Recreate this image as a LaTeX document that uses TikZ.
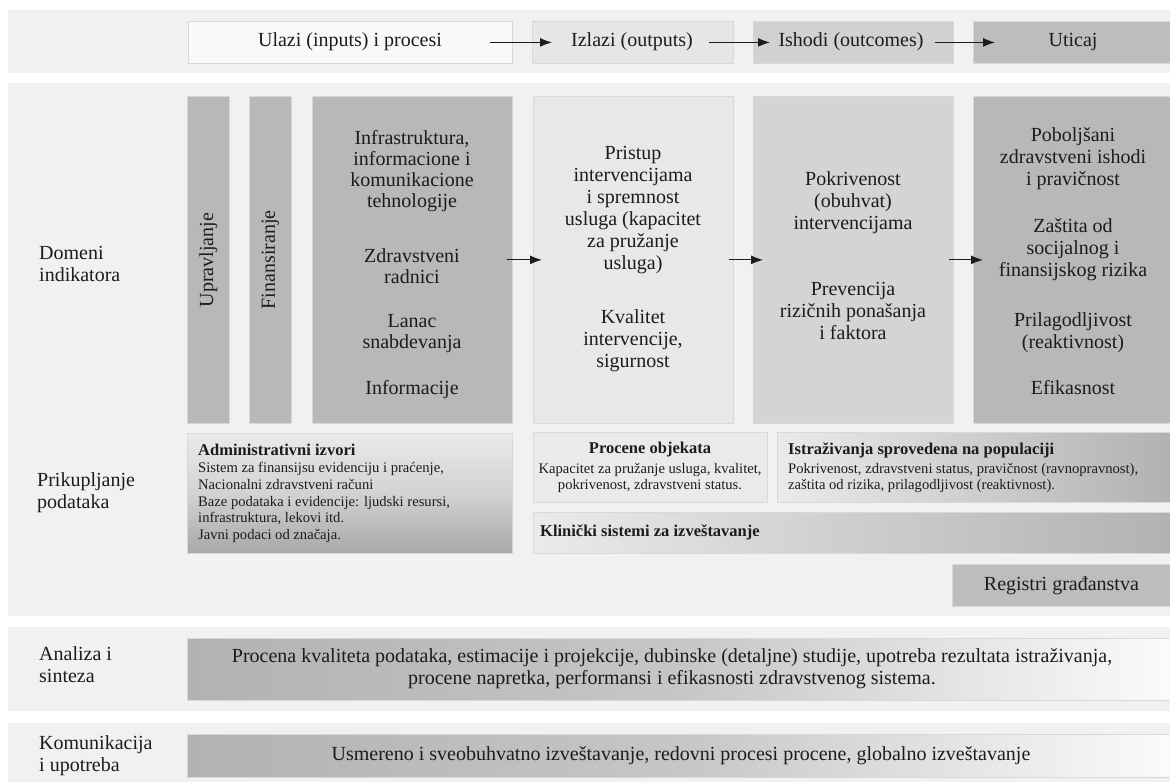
\documentclass[tikz,border=0pt]{standalone}
\usepackage{fontspec}
\setmainfont{Liberation Serif}
\usetikzlibrary{arrows.meta}
\definecolor{bandc}{RGB}{242,241,240}
\definecolor{edgec}{RGB}{216,216,214}
\definecolor{inc}{RGB}{249,249,248}
\definecolor{outc}{RGB}{230,230,229}
\definecolor{ishc}{RGB}{209,209,209}
\definecolor{uticc}{RGB}{189,189,189}
\definecolor{darkc}{RGB}{184,184,184}
\definecolor{pric}{RGB}{233,232,231}
\definecolor{pokc}{RGB}{212,212,212}
\definecolor{txtc}{RGB}{28,28,28}
\definecolor{gl}{RGB}{234,234,234}
\definecolor{gm}{RGB}{210,210,210}
\definecolor{gd}{RGB}{168,168,168}
\definecolor{gdd}{RGB}{178,178,178}
\definecolor{gmid}{RGB}{198,198,198}
\definecolor{gw}{RGB}{251,251,251}
\begin{document}
\begin{tikzpicture}[x=1pt,y=-1pt,
  box/.style={draw=edgec, line width=0.8pt, inner sep=0pt, anchor=north west},
  bigtxt/.style={inner sep=0pt, text=txtc, font=\fontsize{20pt}{22pt}\selectfont},
  smalltxt/.style={inner sep=0pt, text=txtc, font=\fontsize{14.6pt}{16.8pt}\selectfont},
  headtxt/.style={inner sep=0pt, text=txtc, font=\bfseries\fontsize{16.5pt}{19pt}\selectfont},
  arr/.style={draw=txtc, line width=1.1pt, -{Latex[length=12pt,width=9pt]}}
]
\useasboundingbox (0,0) rectangle (1170,782);
\fill[white] (0,0) rectangle (1170,782);
% bands
\fill[bandc] (8,10) rectangle (1170,73);
\fill[bandc] (8,83) rectangle (1170,616);
\fill[bandc] (8,627) rectangle (1170,711);
\fill[bandc] (8,723) rectangle (1170,782);

% top row
\node[box, fill=inc,  minimum width=324pt, minimum height=42pt] (ulazi)  at (188,21) {};
\node[box, fill=outc, minimum width=201pt, minimum height=42pt] (izlazi) at (532,21) {};
\node[box, fill=ishc, minimum width=200pt, minimum height=42pt] (ishodi) at (753,21) {};
\node[box, fill=uticc, minimum width=197pt, minimum height=42pt] (uticaj) at (973,21) {};
\node[bigtxt] (ulazitxt)  at (350,42) {Ulazi (inputs) i procesi};
\node[bigtxt] (izlazitxt) at (632,42) {Izlazi (outputs)};
\node[bigtxt] (ishoditxt) at (851,42) {Ishodi (outcomes)};
\node[bigtxt] (uticajtxt) at (1073,42) {Uticaj};
\draw[arr] ([xshift=-23pt]ulazi.east) -- ([xshift=20pt]izlazi.west);
\draw[arr] ([xshift=-25pt]izlazi.east) -- ([xshift=17pt]ishodi.west);
\draw[arr] ([xshift=-19pt]ishodi.east) -- ([xshift=22pt]uticaj.west);

% side labels
\node[bigtxt, align=left, anchor=west] (domeni) at (39,264) {Domeni\\indikatora};
\node[bigtxt, align=left, anchor=west] (prik) at (37,493) {Prikupljanje\\podataka};
\node[bigtxt, align=left, anchor=west] (analiza) at (39,665) {Analiza i\\sinteza};
\node[bigtxt, align=left, anchor=west] (komun) at (39,756) {Komunikacija\\i upotreba};

% indicator columns
\node[box, fill=darkc, minimum width=42pt, minimum height=327pt] (upr) at (187,96) {};
\node[box, fill=darkc, minimum width=42pt, minimum height=327pt] (fin) at (249,96) {};
\node[box, fill=darkc, minimum width=200pt, minimum height=327pt] (infra) at (312,96) {};
\node[box, fill=pric, minimum width=200pt, minimum height=327pt] (pristup) at (533,96) {};
\node[box, fill=pokc, minimum width=200pt, minimum height=327pt] (pokr) at (753,96) {};
\node[box, fill=darkc, minimum width=197pt, minimum height=327pt] (pobolj) at (973,96) {};

\node[bigtxt, rotate=90] (uprtxt) at (upr.center) {Upravljanje};
\node[bigtxt, rotate=90] (fintxt) at (fin.center) {Finansiranje};
\node[bigtxt, align=center, font=\fontsize{20pt}{21pt}\selectfont] (infratxt) at (412,265)
  {Infrastruktura,\\informacione i\\komunikacione\\tehnologije\\[34pt]Zdravstveni\\radnici\\[23pt]Lanac\\snabdevanja\\[25pt]Informacije};
\node[bigtxt, align=center] (pristuptxt) at (633,259.5)
  {Pristup\\intervencijama\\i spremnost\\usluga (kapacitet\\za pružanje\\usluga)\\[32pt]Kvalitet\\intervencije,\\sigurnost};
\node[bigtxt, align=center] (pokrtxt) at (853,256)
  {Pokrivenost\\(obuhvat)\\intervencijama\\[44pt]Prevencija\\rizičnih ponašanja\\i faktora};
\node[bigtxt, align=center] (poboljtxt) at (1073,261.5)
  {Poboljšani\\zdravstveni ishodi\\i pravičnost\\[25pt]Zaštita od\\socijalnog i\\finansijskog rizika\\[28pt]Prilagodljivost\\(reaktivnost)\\[24pt]Efikasnost};

\draw[arr] ([xshift=-6pt]infra.east) -- ([xshift=9pt]pristup.west);
\draw[arr] ([xshift=-5pt]pristup.east) -- ([xshift=10pt]pokr.west);
\draw[arr] ([xshift=-5pt]pokr.east) -- ([xshift=10pt]pobolj.west);

% data collection
\node[box, top color=gl, bottom color=gd, middle color=gm, minimum width=325pt, minimum height=120pt] (admin) at (187,433) {};
\node[headtxt, anchor=west] (adminh) at (198,450) {Administrativni izvori};
\node[smalltxt, align=left, anchor=west] (adminb) at (198,502.5)
  {Sistem za finansijsu evidenciju i praćenje,\\Nacionalni zdravstveni računi\\Baze podataka i evidencije: ljudski resursi,\\infrastruktura, lekovi itd.\\Javni podaci od značaja.};

\node[box, fill=gl, minimum width=234pt, minimum height=70pt] (procene) at (533,432) {};
\node[headtxt] (proceneh) at (650,450) {Procene objekata};
\node[smalltxt, align=center] (proceneb) at (650,478)
  {Kapacitet za pružanje usluga, kvalitet,\\pokrivenost, zdravstveni status.};

\node[box, left color=gl, right color=gdd, minimum width=393pt, minimum height=70pt] (istr) at (777,432) {};
\node[headtxt, anchor=west] (istrh) at (788,450) {Istraživanja sprovedena na populaciji};
\node[smalltxt, align=left, anchor=west] (istrb) at (788,478)
  {Pokrivenost, zdravstveni status, pravičnost (ravnopravnost),\\zaštita od rizika, prilagodljivost (reaktivnost).};

\node[box, left color=gl, right color=gdd, minimum width=637pt, minimum height=41pt] (klin) at (533,512) {};
\node[headtxt, anchor=west] (klinh) at (540,532) {Klinički sistemi za izveštavanje};

\node[box, fill=uticc, minimum width=218pt, minimum height=42pt] (regis) at (952,564) {};
\node[bigtxt] (registxt) at (regis.center) {Registri građanstva};

% analysis and communication
\node[box, left color=gdd, right color=gw, middle color=gmid, minimum width=983pt, minimum height=62pt] (analbox) at (187,638) {};
\node[bigtxt, align=center] (analtxt) at (672,669)
  {Procena kvaliteta podataka, estimacije i projekcije, dubinske (detaljne) studije, upotreba rezultata istraživanja,\\procene napretka, performansi i efikasnosti zdravstvenog sistema.};
\node[box, left color=gdd, right color=gw, middle color=gmid, minimum width=983pt, minimum height=43pt] (kombox) at (187,734) {};
\node[bigtxt] (komtxt) at (681,755.5)
  {Usmereno i sveobuhvatno izveštavanje, redovni procesi procene, globalno izveštavanje};
\end{tikzpicture}
\end{document}
